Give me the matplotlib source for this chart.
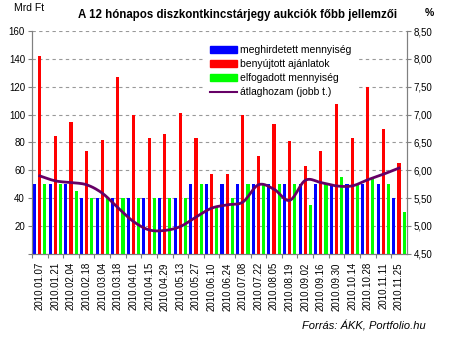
import numpy as np
import matplotlib
import matplotlib.pyplot as plt
from matplotlib.patches import Patch
from matplotlib.lines import Line2D

matplotlib.rcParams['font.family'] = ['Liberation Sans', 'DejaVu Sans']
matplotlib.rcParams['font.size'] = 7

# aukciós dátumok
dates = ['2010.01.07', '2010.01.21', '2010.02.04', '2010.02.18', '2010.03.04',
         '2010.03.18', '2010.04.01', '2010.04.15', '2010.04.29', '2010.05.13',
         '2010.05.27', '2010.06.10', '2010.06.24', '2010.07.08', '2010.07.22',
         '2010.08.05', '2010.08.19', '2010.09.02', '2010.09.16', '2010.09.30',
         '2010.10.14', '2010.10.28', '2010.11.11', '2010.11.25']

# Mrd Ft
meghirdetett = [50, 50, 50, 40, 40, 40, 40, 40, 40, 40, 50, 50,
                50, 50, 50, 50, 50, 50, 50, 50, 50, 50, 50, 40]
benyujtott = [142, 85, 95, 74, 82, 127, 100, 83, 86, 101, 83, 57,
              57, 100, 70, 93, 81, 63, 74, 113, 83, 120, 90, 65]
elfogadott = [50, 50, 45, 40, 40, 40, 40, 40, 40, 40, 50, 34,
              40, 50, 50, 50, 50, 35, 50, 55, 50, 54, 50, 30]

# átlaghozam, %
hozam = [5.90, 5.81, 5.78, 5.74, 5.59, 5.33, 5.08, 4.93, 4.92, 4.99, 5.16, 5.32,
         5.38, 5.43, 5.74, 5.66, 5.46, 5.82, 5.78, 5.72, 5.72, 5.83, 5.93, 6.04]


def catmull_rom(x, y, n=12):
    # simított vonal a pontokon keresztül
    x = np.asarray(x, float)
    y = np.asarray(y, float)
    px = np.concatenate([[2 * x[0] - x[1]], x, [2 * x[-1] - x[-2]]])
    py = np.concatenate([[2 * y[0] - y[1]], y, [2 * y[-1] - y[-2]]])
    xs, ys = [], []
    t = np.linspace(0, 1, n, endpoint=False)
    for i in range(1, len(px) - 2):
        for p, out in ((px, xs), (py, ys)):
            p0, p1, p2, p3 = p[i - 1], p[i], p[i + 1], p[i + 2]
            out.extend(0.5 * (2 * p1 + (-p0 + p2) * t
                              + (2 * p0 - 5 * p1 + 4 * p2 - p3) * t ** 2
                              + (-p0 + 3 * p1 - 3 * p2 + p3) * t ** 3))
    xs.append(x[-1])
    ys.append(y[-1])
    return xs, ys


fig = plt.figure(figsize=(4.5, 3.38), dpi=100)
ax = fig.add_axes([0.071, 0.249, 0.833, 0.659])
ax2 = ax.twinx()

x = np.arange(len(dates))
w = 0.2
ax.bar(x - 0.33, meghirdetett, w, color='#0000ff', zorder=3)
ax.bar(x, benyujtott, w, color='#ff0000', zorder=3)
ax.bar(x + 0.33, elfogadott, w, color='#00ff00', zorder=3)

sx, sy = catmull_rom(x, hozam)
ax2.plot(sx, sy, color='#660066', lw=2, zorder=4)

ax.set_xlim(-0.5, len(dates) - 0.5)
ax.set_ylim(0, 160)
ax.set_yticks(range(0, 161, 20))
ax.set_yticklabels(['' if v == 0 else str(v) for v in range(0, 161, 20)])
ax2.set_ylim(4.5, 8.5)
yt = np.arange(4.5, 8.51, 0.5)
ax2.set_yticks(yt)
ax2.set_yticklabels([f'{v:.2f}'.replace('.', ',') for v in yt])

ax.set_xticks(x - 0.5, minor=False)
ax.set_xticklabels([])
ax.set_xticks(x, minor=True)
ax.set_xticklabels(dates, minor=True, rotation=90, fontsize=7)
ax.tick_params(axis='x', which='major', length=3, color='#808080')
ax.tick_params(axis='x', which='minor', length=0, pad=6)
ax.tick_params(axis='y', length=3, color='#808080', pad=2)
ax2.tick_params(axis='y', length=3, color='#808080', pad=2)

ax.grid(axis='y', linestyle=(0, (3, 3)), color='#999999', lw=0.8, zorder=0)
for a in (ax, ax2):
    a.spines['top'].set_visible(False)
    for s in ('left', 'right', 'bottom'):
        a.spines[s].set_color('#808080')

handles = [Patch(color='#0000ff'), Patch(color='#ff0000'), Patch(color='#00ff00'),
           Line2D([], [], color='#660066', lw=1.5)]
labels = ['meghirdetett mennyiség', 'benyújtott ajánlatok',
          'elfogadott mennyiség', 'átlaghozam (jobb t.)']
leg = ax2.legend(handles, labels, loc='upper left', bbox_to_anchor=(0.445, 0.99),
                 frameon=True, fancybox=False, edgecolor='none', facecolor='white',
                 framealpha=1, fontsize=7.5, handlelength=2.6, handleheight=0.65,
                 handletextpad=0.3, labelspacing=0.4, borderpad=0.6)
leg.set_zorder(10)

fig.text(0.527, 0.955, 'A 12 hónapos diszkontkincstárjegy aukciók főbb jellemzői',
         ha='center', va='center', fontsize=8.3, fontweight='bold')
fig.text(0.03, 0.975, 'Mrd Ft', ha='left', va='center', fontsize=7.5)
fig.text(0.955, 0.962, '%', ha='center', va='center', fontsize=7.5, fontweight='bold')
fig.text(0.945, 0.035, 'Forrás: ÁKK, Portfolio.hu', ha='right', va='center',
         fontsize=8, style='italic')

fig.savefig('out.png', dpi=100)
